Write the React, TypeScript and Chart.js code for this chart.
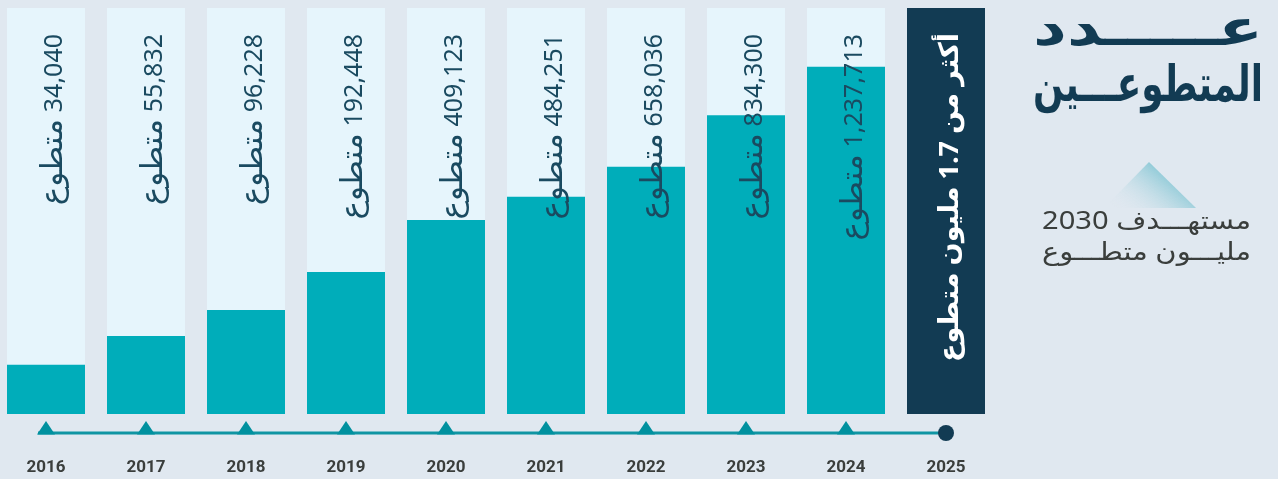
import React, { useEffect, useRef } from "react";
import { Chart, registerables } from "chart.js";

Chart.register(...registerables);

// ---- data ----
const years = ["2016", "2017", "2018", "2019", "2020", "2021", "2022", "2023", "2024", "2025"];
const volunteerCounts = ["34,040", "55,832", "96,228", "192,448", "409,123", "484,251", "658,036", "834,300", "1,237,713"];
// visual bar level of each year (share of full track height, %)
const barLevels = [12.1, 19.2, 25.6, 35.0, 47.8, 53.5, 60.9, 73.6, 85.5, 100];
const trackLevels = [100, 100, 100, 100, 100, 100, 100, 100, 100, 100];
const unitWord = "متطوع";
const targetLabel = "أكثر من 1.7 مليون متطوع";
const titleLines = ["عـــــدد", "المتطوعـــين"];
const subtitleLines = ["مستهـــدف 2030", "مليـــون متطـــوع"];

// ---- styles ----
const BG = "#e0e8f0";
const TRACK = "#e6f5fc";
const TEAL = "#00adba";
const NAVY = "#123b53";
const LABEL = "#1a4a60";
const GREY = "#3a3e3c";
const OFF = 4; // canvas is shifted 4px to the left
const ARFONT = "'Noto Sans', 'DejaVu Sans', sans-serif";

function fitText(ctx: CanvasRenderingContext2D, text: string, width: number) {
  const w = ctx.measureText(text).width;
  return w > 0 ? width / w : 1;
}

const overlayPlugin = {
  id: "overlay",
  afterDatasetsDraw(chart: any) {
    const ctx: CanvasRenderingContext2D = chart.ctx;
    const xs = chart.scales.x;
    const ys = chart.scales.y;
    const bottom = ys.getPixelForValue(0);
    const top = ys.getPixelForValue(100);
    ctx.save();

    // value labels in bars (rotated, reading bottom-to-top)
    volunteerCounts.forEach((v, i) => {
      const cx = xs.getPixelForValue(i);
      ctx.save();
      ctx.translate(cx + 16, top + 26);
      ctx.rotate(-Math.PI / 2);
      ctx.textBaseline = "alphabetic";
      ctx.fillStyle = LABEL;
      ctx.direction = "ltr";
      ctx.textAlign = "right";
      ctx.font = `25px ${ARFONT}`;
      ctx.fillText(v, 0, 0);
      const wn = ctx.measureText(v).width;
      ctx.direction = "rtl";
      ctx.font = `30px ${ARFONT}`;
      ctx.translate(-wn - 7, 0);
      ctx.scale(fitText(ctx, unitWord, 86), 1);
      ctx.fillText(unitWord, 0, 0);
      ctx.restore();
    });

    // target label in last bar
    {
      const i = years.length - 1;
      const cx = xs.getPixelForValue(i);
      ctx.save();
      ctx.translate(cx + 12, top + 25);
      ctx.rotate(-Math.PI / 2);
      ctx.direction = "rtl";
      ctx.textAlign = "right";
      ctx.textBaseline = "alphabetic";
      ctx.font = `bold 27px ${ARFONT}`;
      ctx.fillStyle = "#ffffff";
      const s = fitText(ctx, targetLabel, 329);
      ctx.scale(s, 1);
      ctx.fillText(targetLabel, 0, 0);
      ctx.restore();
    }

    // timeline
    const lineY = bottom + 19;
    const firstX = xs.getPixelForValue(0);
    const lastX = xs.getPixelForValue(years.length - 1);
    ctx.strokeStyle = "#0f95a3";
    ctx.lineWidth = 3;
    ctx.beginPath();
    ctx.moveTo(firstX - 8, lineY);
    ctx.lineTo(lastX, lineY);
    ctx.stroke();
    years.forEach((y, i) => {
      const cx = xs.getPixelForValue(i);
      if (i < years.length - 1) {
        ctx.fillStyle = "#00919f";
        ctx.beginPath();
        ctx.moveTo(cx - 9, lineY + 1.5);
        ctx.lineTo(cx + 9, lineY + 1.5);
        ctx.lineTo(cx, lineY - 12);
        ctx.closePath();
        ctx.fill();
      } else {
        ctx.fillStyle = NAVY;
        ctx.beginPath();
        ctx.arc(cx, lineY, 8, 0, Math.PI * 2);
        ctx.fill();
      }
      ctx.fillStyle = GREY;
      ctx.font = "bold 17px Roboto, sans-serif";
      ctx.textAlign = "center";
      ctx.textBaseline = "middle";
      ctx.direction = "ltr";
      ctx.fillText(y, cx, 468);
    });

    // decorative gradient triangle
    const g = ctx.createLinearGradient(1160 + OFF, 162, 1120 + OFF, 212);
    g.addColorStop(0, "rgba(110,190,205,0.85)");
    g.addColorStop(1, "rgba(224,232,240,0)");
    ctx.fillStyle = g;
    ctx.beginPath();
    ctx.moveTo(1149 + OFF, 162);
    ctx.lineTo(1196 + OFF, 208);
    ctx.lineTo(1104 + OFF, 208);
    ctx.closePath();
    ctx.fill();

    // title
    ctx.direction = "rtl";
    ctx.textAlign = "right";
    ctx.textBaseline = "alphabetic";
    ctx.fillStyle = NAVY;
    ctx.font = `bold 50px ${ARFONT}`;
    const titleBase = [45, 101];
    titleLines.forEach((t, k) => {
      ctx.save();
      ctx.translate(1263 + OFF, titleBase[k]);
      ctx.scale(fitText(ctx, t, 230), 1);
      ctx.fillText(t, 0, 0);
      ctx.restore();
    });

    // subtitle
    ctx.fillStyle = GREY;
    ctx.font = `25px ${ARFONT}`;
    const subBase = [229, 260];
    subtitleLines.forEach((t, k) => {
      ctx.save();
      ctx.translate(1251 + OFF, subBase[k]);
      ctx.scale(fitText(ctx, t, 209), 1);
      ctx.fillText(t, 0, 0);
      ctx.restore();
    });

    ctx.restore();
  },
};

export default function App() {
  const ref = useRef<HTMLCanvasElement | null>(null);
  useEffect(() => {
    if (!ref.current) return;
    const n = years.length;
    const fgColors = years.map((_, i) => (i === n - 1 ? NAVY : TEAL));
    const bgColors = years.map((_, i) => (i === n - 1 ? NAVY : TRACK));
    const chart = new Chart(ref.current, {
      type: "bar",
      data: {
        labels: years,
        datasets: [
          {
            label: "level",
            data: barLevels,
            backgroundColor: fgColors,
            borderWidth: 0,
            order: 0,
            grouped: false,
            categoryPercentage: 1,
            barPercentage: 0.78,
          },
          {
            label: "track",
            data: trackLevels,
            backgroundColor: bgColors,
            borderWidth: 0,
            order: 1,
            grouped: false,
            categoryPercentage: 1,
            barPercentage: 0.78,
          },
        ],
      },
      options: {
        responsive: false,
        animation: false,
        devicePixelRatio: 1,
        layout: { padding: { left: 0, right: 282, top: 8, bottom: 65 } },
        plugins: { legend: { display: false }, tooltip: { enabled: false } },
        scales: {
          x: { display: false, grid: { display: false } },
          y: { display: false, min: 0, max: 100, grid: { display: false } },
        },
      },
      plugins: [overlayPlugin],
    } as any);
    return () => chart.destroy();
  }, []);
  return (
    <div
      style={{
        position: "fixed",
        left: 0,
        top: 0,
        width: 1278,
        height: 479,
        overflow: "hidden",
        background: BG,
      }}
    >
      <canvas
        ref={ref}
        width={1282}
        height={479}
        style={{ position: "absolute", left: -OFF, top: 0, width: 1282, height: 479 }}
      />
    </div>
  );
}
